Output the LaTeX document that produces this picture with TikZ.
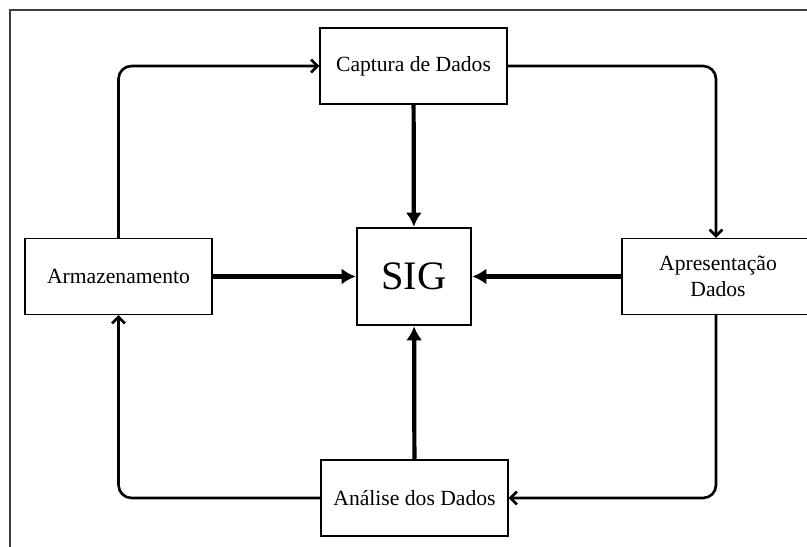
\documentclass[tikz,border=0pt]{standalone}
\usepackage{fontspec}
\setmainfont{Liberation Serif}
\usepackage{tikz}
\usetikzlibrary{arrows.meta}
\tikzset{%
    box/.style={draw, line width=0.7pt, minimum width=3.74cm, minimum height=1.52cm,
        align=center, font=\fontsize{12.3}{14.5}\selectfont},
    core/.style={draw, line width=1.5pt, minimum width=2.28cm, minimum height=1.94cm,
        font=\fontsize{23}{26}\selectfont},
    feed/.style={line width=2.4pt, -{Latex[length=0.28cm,width=0.32cm]}},
    cycle/.style={line width=1.5pt, rounded corners=0.26cm,
        -{Straight Barb[length=0.13cm,width=0.26cm,line width=1.5pt]}}
}
\begin{document}
\begin{tikzpicture}[x=0.02cm,y=-0.02cm]
    \useasboundingbox (0,0) rectangle (807,547);
    \draw[line width=0.8pt, black!75] (10,547) -- (10,10) -- (807,10);
%-----------------------------------------------
    \node[core] (sig) at (414,276.5) {SIG};
    \node[box] (cap) at (413.5,66) {Captura de Dados};
    \node[box] (arm) at (118.5,276.5) {Armazenamento};
    \node[box, minimum width=3.84cm] (apr) at (718,276.5) {Apresentação\\Dados};
    \node[box] (ana) at (414.5,498) {Análise dos Dados};
%-----------------------------------------------
    \draw[feed] (cap) -- (sig);
    \draw[feed] (arm) -- (sig);
    \draw[feed] (apr) -- (sig);
    \draw[feed] (ana) -- (sig);
%-----------------------------------------------
    \draw[cycle] (arm.north) |- (cap.west);
    \draw[cycle] (cap.east) -| ([xshift=-2*0.02cm]apr.north);
    \draw[cycle] ([xshift=-2*0.02cm]apr.south) |- (ana.east);
    \draw[cycle] (ana.west) -| (arm.south);
\end{tikzpicture}
\end{document}
